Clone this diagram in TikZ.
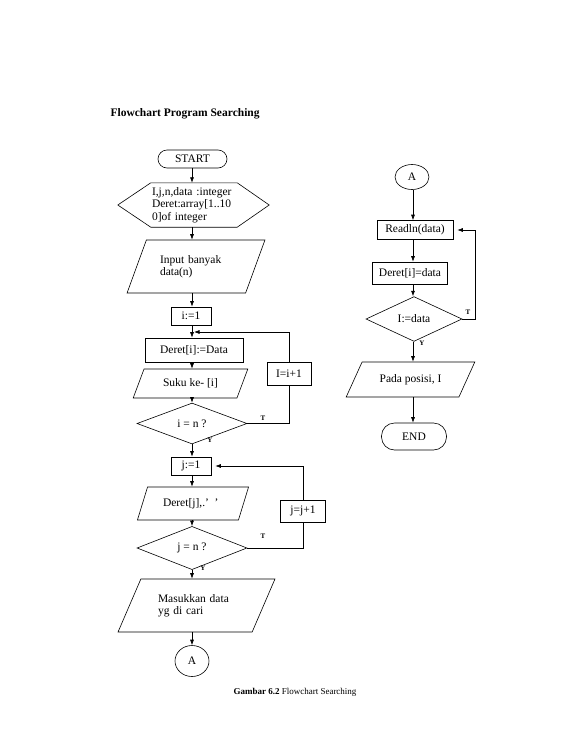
\documentclass[tikz,border=0pt]{standalone}
\usepackage{fontspec}
\setmainfont{Liberation Serif}
\usetikzlibrary{shapes.geometric,shapes.misc,arrows.meta,calc}
\begin{document}
\begin{tikzpicture}[x=1pt,y=-1pt,
 every node/.style={font=\fontsize{11.5}{12.5}\selectfont},
 base/.style={draw, line width=0.6pt, inner sep=1pt},
 box/.style={base, rectangle},
 term/.style={base, rectangle, rounded corners=#1},
 par/.style 2 args={base, trapezium, trapezium left angle=#1, trapezium right angle=#2, trapezium stretches=true},
 dec/.style={base, diamond},
 con/.style={base, ellipse},
 arr/.style={line width=0.6pt, -{Latex[length=5.5pt,width=4pt]}},
 ln/.style={line width=0.6pt},
 lab/.style={font=\fontsize{7}{8}\selectfont\bfseries, inner sep=0pt},
]
\useasboundingbox[fill=white] (0,0) rectangle (563,750);

\coordinate (axL) at (192,0);
\coordinate (axR) at (413,0);
\coordinate (rx) at (475,0);

% title and caption
\node[anchor=west, font=\fontsize{11.5}{13}\selectfont\bfseries] (title) at (107,114) {Flowchart Program Searching};
\node[font=\fontsize{9}{11}\selectfont] (cap) at (295,692) {\textbf{Gambar 6.2} Flowchart Searching};

% left column
\node[term=9pt, minimum width=69pt, minimum height=18pt] (start) at (192.5,159) {START};
\node[inner sep=1pt, text width=84pt, align=left, minimum height=44pt] (hex) at (194,205) {I,j,n,data :integer\\Deret:array[1..10\\0]of integer};
\draw[ln] (hex.north west) -- (hex.north east) -- ([xshift=32pt]hex.east) -- (hex.south east) -- (hex.south west) -- ([xshift=-33pt]hex.west) -- cycle;
\node[par={60}{120}, minimum width=138pt, minimum height=53pt, text width=72pt, align=left] (inp) at (196,266.5) {Input banyak\\data(n)};
\node[box, minimum width=40pt, minimum height=18pt] (i1) at (191,316) {i:=1};
\node[box, minimum width=98pt, minimum height=24pt] (deri) at (194,350) {Deret[i]:=Data};
\node[par={60}{120}, minimum width=115pt, minimum height=29pt] (suku) at (190.5,383.5) {Suku ke- [i]};
\node[dec, minimum width=110pt, minimum height=37pt] (d1) at (192,423.5) {i = n ?};
\node[box, minimum width=44pt, minimum height=23pt] (inc1) at (289,373.5) {I=i+1};
\node[box, minimum width=40pt, minimum height=18pt] (j1) at (191,466) {j:=1};
\node[par={61}{119}, minimum width=112pt, minimum height=33pt, text width=60pt, align=left] (derj) at (193,503.5) {Deret[j],.’ ’};
\node[dec, minimum width=110pt, minimum height=34pt] (d2) at (192,548) {j = n ?};
\node[box, minimum width=45pt, minimum height=22pt] (inc2) at (303,511) {j=j+1};
\node[par={57}{123}, minimum width=157pt, minimum height=53pt, text width=77pt, align=left] (mas) at (196.5,605.5) {Masukkan data\\yg di cari};
\node[con, minimum width=34pt, minimum height=31pt] (a1) at (192,661) {A};

% right column
\node[con, minimum width=34pt, minimum height=25pt] (a2) at (412,177) {A};
\node[box, minimum width=76pt, minimum height=19pt] (rd) at (415,230) {Readln(data)};
\node[box, minimum width=75pt, minimum height=22pt] (dd) at (410,273) {Deret[i]=data};
\node[dec, minimum width=96pt, minimum height=36pt] (d3) at (414,319) {I:=data};
\node[par={50}{130}, minimum width=129pt, minimum height=35pt] (pp) at (410.5,379.5) {Pada posisi, I};
\node[term=13pt, minimum width=65pt, minimum height=27pt] (end) at (414,436.5) {END};

% labels
\node[lab] (t1) at (263,418) {T};
\node[lab] (y1) at (210,440) {Y};
\node[lab] (t2) at (263,536) {T};
\node[lab] (y2) at (203,568) {Y};
\node[lab] (t3) at (468,312) {T};
\node[lab] (y3) at (422,343) {Y};

% left connectors
\draw[arr] (start.south -| axL) -- (hex.north -| axL);
\draw[arr] (hex.south -| axL) -- (inp.north -| axL);
\draw[arr] (inp.south -| axL) -- (i1.north -| axL);
\draw[arr] (i1.south -| axL) -- (deri.north -| axL);
\draw[arr] (deri.south -| axL) -- (suku.north -| axL);
\draw[arr] (suku.south -| axL) -- (d1.north -| axL);
\draw[arr] (d1.south -| axL) -- (j1.north -| axL);
\draw[arr] (j1.south -| axL) -- (derj.north -| axL);
\draw[arr] (derj.south -| axL) -- (d2.north -| axL);
\draw[arr] (d2.south -| axL) -- (mas.north -| axL);
\draw[arr] (mas.south -| axL) -- (a1.north -| axL);
\coordinate (lp1) at (194,332);
\draw[ln] (d1.east) -| (inc1.south);
\draw[arr] (inc1.north) |- (lp1);
\draw[ln] (d2.east) -| (inc2.south);
\draw[arr, shorten >=4pt] (inc2.north) |- (j1.east);

% right connectors
\draw[arr] (a2.south -| axR) -- (rd.north -| axR);
\draw[arr] (rd.south -| axR) -- (dd.north -| axR);
\draw[arr] (dd.south -| axR) -- (d3.north -| axR);
\draw[arr] (d3.south -| axR) -- (pp.north -| axR);
\draw[arr] (pp.south -| axR) -- (end.north -| axR);
\draw[arr, shorten >=4pt] (d3.east) -- (d3.east -| rx) |- (rd.east);
\end{tikzpicture}
\end{document}
